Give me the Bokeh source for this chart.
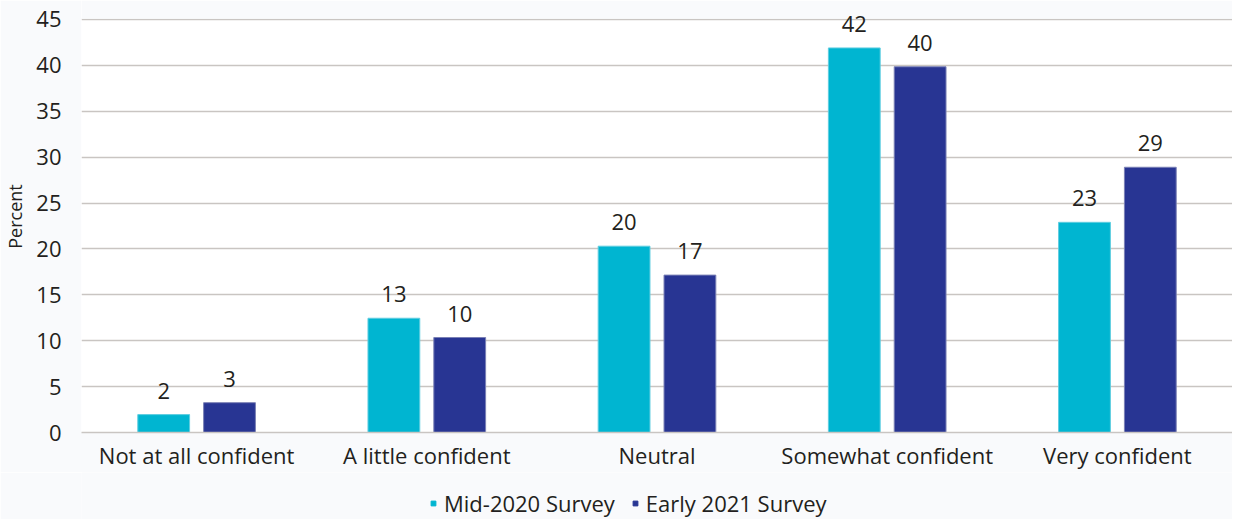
from bokeh.plotting import figure
from bokeh.layouts import column
from bokeh.models import (ColumnDataSource, FactorRange, Range1d, Legend, LegendItem,
                          BoxAnnotation)
from bokeh.transform import dodge
from bokeh.core.properties import value
from bokeh.embed import file_html
from bokeh.resources import INLINE

categories = ["Not at all confident", "A little confident", "Neutral",
              "Somewhat confident", "Very confident"]
mid_2020 = [1.95, 12.45, 20.3, 41.9, 22.9]
early_2021 = [3.25, 10.35, 17.15, 39.85, 28.9]
mid_2020_labels = ["2", "13", "20", "42", "23"]
early_2021_labels = ["3", "10", "17", "40", "29"]
series_names = ["Mid-2020 Survey", "Early 2021 Survey"]
y_ticks = [0, 5, 10, 15, 20, 25, 30, 35, 40, 45]

FONT = "Open Sans"
TXT = "#231f20"
CYAN = "#00b5d1"
NAVY = "#283593"
TINT = "#f9fafc"
Y_MAX = 45
Y_TOP = 47.07  # extra room above the 45 line so the top labels are not clipped

src = ColumnDataSource(dict(cat=categories, mid=mid_2020, early=early_2021,
                            mid_lab=mid_2020_labels, early_lab=early_2021_labels))

p = figure(x_range=FactorRange(*categories), y_range=Range1d(0, Y_TOP),
           width=1232, height=472, output_backend="svg", toolbar_location=None,
           min_border_left=74, min_border_right=0, min_border_top=0, min_border_bottom=38)
p.x_range.range_padding = 0
p.border_fill_color = TINT
p.background_fill_color = "white"
p.outline_line_color = None

# tinted strip above the top gridline (same as page background)
p.add_layout(BoxAnnotation(bottom=Y_MAX + 0.09, fill_color=TINT, fill_alpha=1,
                           line_color=None, level="underlay"))

r1 = p.vbar(x=dodge("cat", -0.143, range=p.x_range), top="mid", width=0.225, source=src,
            fill_color=CYAN, line_color="#5fcde0", line_width=1)
r2 = p.vbar(x=dodge("cat", 0.143, range=p.x_range), top="early", width=0.225, source=src,
            fill_color=NAVY, line_color="#7a80b5", line_width=1)

p.text(x=dodge("cat", -0.143, range=p.x_range), y="mid", text="mid_lab", source=src,
       text_align="center", text_baseline="alphabetic", y_offset=-24,
       text_font=value(FONT), text_font_size="22px", text_color=TXT)
p.text(x=dodge("cat", 0.143, range=p.x_range), y="early", text="early_lab", source=src,
       text_align="center", text_baseline="alphabetic", y_offset=-24,
       text_font=value(FONT), text_font_size="22px", text_color=TXT)

p.ygrid.grid_line_color = "#c9c5c2"
p.ygrid.grid_line_width = 1.5
p.xgrid.grid_line_color = None
p.yaxis.ticker = y_ticks
p.yaxis.axis_line_color = None
p.yaxis.major_tick_line_color = None
p.yaxis.minor_tick_line_color = None
p.yaxis.major_label_standoff = 14
p.yaxis.axis_label = "Percent"
p.yaxis.axis_label_text_font = FONT
p.yaxis.axis_label_text_font_size = "18px"
p.yaxis.axis_label_text_font_style = "normal"
p.yaxis.axis_label_text_color = TXT
p.yaxis.axis_label_standoff = 6

p.xaxis.axis_line_color = "#c9c5c2"
p.xaxis.axis_line_width = 1.5
p.xaxis.major_tick_line_color = None
p.xaxis.minor_tick_line_color = None
p.xaxis.major_label_standoff = 1

for ax in (p.xaxis, p.yaxis):
    ax.major_label_text_font = FONT
    ax.major_label_text_font_size = "22px"
    ax.major_label_text_color = TXT

# legend strip below the chart
p2 = figure(width=1232, height=47, output_backend="svg", toolbar_location=None,
            x_range=Range1d(0, 1), y_range=Range1d(0, 1),
            x_axis_type=None, y_axis_type=None,
            min_border_left=0, min_border_right=0, min_border_top=0, min_border_bottom=0)
p2.grid.visible = False
p2.outline_line_color = None
p2.border_fill_color = TINT
p2.background_fill_color = TINT
g1 = p2.scatter(x=[-5], y=[-5], marker="square", size=12, fill_color=CYAN, line_color=CYAN)
g2 = p2.scatter(x=[-5], y=[-5], marker="square", size=12, fill_color=NAVY, line_color=NAVY)

legend = Legend(items=[LegendItem(label=series_names[0], renderers=[g1]),
                       LegendItem(label=series_names[1], renderers=[g2])],
                orientation="horizontal", location=(346, 1))
legend.glyph_width = 12
legend.glyph_height = 12
legend.label_standoff = 5
legend.spacing = 14
legend.padding = 0
legend.margin = 0
legend.label_text_font = FONT
legend.label_text_font_size = "22px"
legend.label_text_color = TXT
legend.background_fill_alpha = 0
legend.border_line_color = None
p2.add_layout(legend, "center")

layout = column(p, p2, spacing=0)
open("out.html", "w").write(file_html(layout, INLINE))
